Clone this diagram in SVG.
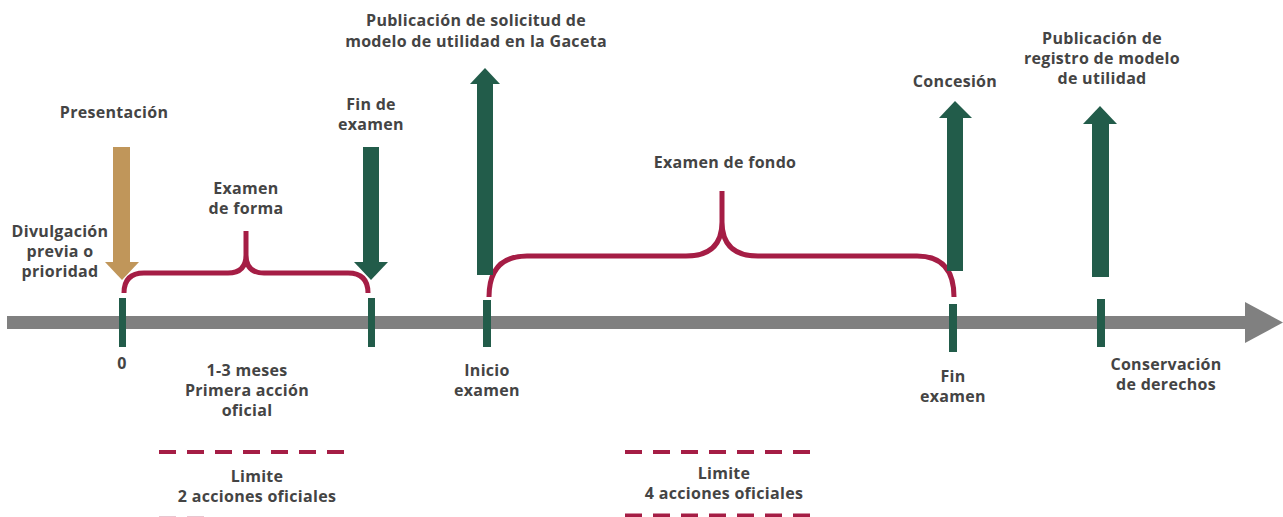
<svg xmlns="http://www.w3.org/2000/svg" width="1283" height="517" viewBox="0 0 1283 517">
<style>
  text { font-family: "Open Sans", "Liberation Sans", sans-serif; font-weight: 700; font-size: 16px; letter-spacing: 0.3px; fill: #444444; text-anchor: middle; }
  .tick { fill: #225c4a; }
  .green { fill: #225c4a; }
  .tan { fill: #c0965a; }
  .brace { fill: none; stroke: #a51d45; stroke-width: 5; stroke-linecap: butt; }
  .dash { stroke: #a51d45; stroke-width: 4; stroke-dasharray: 17 11; fill: none; }
</style>
<rect width="1283" height="517" fill="#ffffff"/>
<g id="connectors">
  <rect x="7" y="316" width="1240" height="13" fill="#808080"/>
  <polygon points="1245,302 1283,322.5 1245,343" fill="#808080"/>
  <path class="brace" d="M124,293 Q124,273 144,273 L228,273 Q246,273 246,255 L246,231 M246,255 Q246,273 264,273 L348,273 Q368,273 368,293"/>
  <path class="brace" d="M489,297 Q489,256 527,256 L686,256 Q722,256 722,222 L722,191 M722,222 Q722,256 758,256 L917,256 Q954,256 954,297"/>
  <line class="dash" x1="159" y1="452" x2="345" y2="452"/>
  <line class="dash" x1="625" y1="452" x2="811" y2="452"/>
  <line class="dash" x1="625" y1="515.5" x2="811" y2="515.5"/>
  <line class="dash" x1="159" y1="518" x2="205" y2="518" opacity="0.25"/>
</g>
<g id="n-presentacion">
  <rect class="tan" x="113" y="147" width="17" height="116"/>
  <polygon class="tan" points="105,262 139,262 122,280"/>
  <text x="114" y="118">Presentación</text>
</g>
<g id="n-divulgacion">
  <text x="60" y="237">Divulgación</text>
  <text x="60" y="257">previa o</text>
  <text x="60" y="277">prioridad</text>
</g>
<g id="n-t0">
  <rect class="tick" x="119" y="298" width="7" height="49"/>
  <text x="122" y="369">0</text>
</g>
<g id="n-examen-forma">
  <text x="246" y="194">Examen</text>
  <text x="246" y="214">de forma</text>
</g>
<g id="n-fin-de-examen">
  <rect class="green" x="363" y="147" width="16" height="116"/>
  <polygon class="green" points="354,262 388,262 371,280"/>
  <text x="371" y="110">Fin de</text>
  <text x="371" y="130">examen</text>
  <rect class="tick" x="368" y="298" width="7" height="49"/>
</g>
<g id="n-primera-accion">
  <text x="247" y="376">1-3 meses</text>
  <text x="247" y="396">Primera acción</text>
  <text x="247" y="416">oficial</text>
</g>
<g id="n-limite-2">
  <text x="257" y="482">Limite</text>
  <text x="257" y="502">2 acciones oficiales</text>
</g>
<g id="n-publicacion-solicitud">
  <rect class="green" x="477" y="83" width="16" height="192"/>
  <polygon class="green" points="470,84 500,84 485,68"/>
  <text x="476" y="26">Publicación de solicitud de</text>
  <text x="476" y="47">modelo de utilidad en la Gaceta</text>
</g>
<g id="n-inicio-examen">
  <rect class="tick" x="483" y="300" width="8" height="47"/>
  <text x="487" y="376">Inicio</text>
  <text x="487" y="396">examen</text>
</g>
<g id="n-examen-fondo">
  <text x="725" y="168">Examen de fondo</text>
</g>
<g id="n-limite-4">
  <text x="724" y="479">Limite</text>
  <text x="724" y="499">4 acciones oficiales</text>
</g>
<g id="n-concesion">
  <rect class="green" x="947" y="117" width="16" height="154"/>
  <polygon class="green" points="939,118 972,118 955,101"/>
  <text x="955" y="87">Concesión</text>
</g>
<g id="n-fin-examen">
  <rect class="tick" x="949" y="304" width="8" height="48"/>
  <text x="953" y="382">Fin</text>
  <text x="953" y="402">examen</text>
</g>
<g id="n-publicacion-registro">
  <rect class="green" x="1092" y="123" width="17" height="154"/>
  <polygon class="green" points="1083,124 1117,124 1100,106"/>
  <text x="1102" y="44">Publicación de</text>
  <text x="1102" y="64">registro de modelo</text>
  <text x="1102" y="84">de utilidad</text>
</g>
<g id="n-conservacion">
  <rect class="tick" x="1097" y="299" width="8" height="48"/>
  <text x="1166" y="370">Conservación</text>
  <text x="1166" y="390">de derechos</text>
</g>
</svg>
